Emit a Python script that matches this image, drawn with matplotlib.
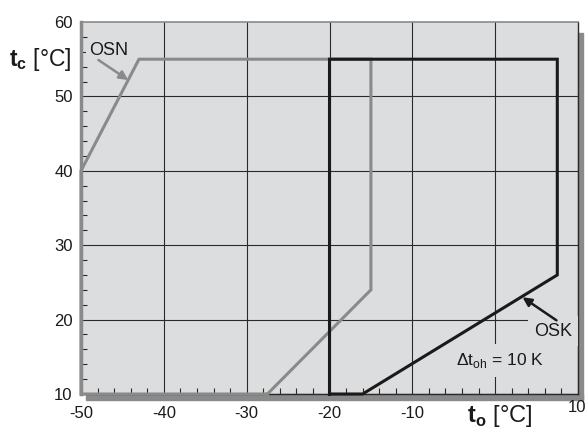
import matplotlib
matplotlib.use("Agg")
import matplotlib.pyplot as plt
from matplotlib.patches import Rectangle
from matplotlib.ticker import MultipleLocator

plt.rcParams["font.family"] = ["Liberation Sans", "DejaVu Sans"]
plt.rcParams["mathtext.fontset"] = "custom"
plt.rcParams["mathtext.rm"] = "Liberation Sans"
plt.rcParams["mathtext.bf"] = "Liberation Sans:bold"

# envelope outlines (t_o, t_c)
osn_to = [-27.5, -50, -50, -43, -15, -15, -27.5]
osn_tc = [10, 10, 40, 55, 55, 24, 10]
osk_to = [-20, -20, 7.5, 7.5, -16, -20]
osk_tc = [10, 55, 55, 26, 10, 10]

x_ticks = [-50, -40, -30, -20, -10, 0, 10]
x_labels = ["-50", "-40", "-30", "-20", "-10", "", ""]
y_ticks = [10, 20, 30, 40, 50, 60]

W, H = 586, 430
fig = plt.figure(figsize=(W / 100, H / 100), dpi=100)
ax = fig.add_axes([81 / W, 36 / H, 497 / W, 372 / H])
panel = "#dcdddf"
ax.set_facecolor(panel)
ax.set_xlim(-50, 10)
ax.set_ylim(10, 60)

# grid at major positions
for xv in x_ticks[1:-1]:
    ax.axvline(xv, color="#2a2a2a", lw=0.8, zorder=1)
for yv in y_ticks[1:-1]:
    ax.axhline(yv, color="#2a2a2a", lw=0.8, zorder=1)

ax.set_xticks(x_ticks)
ax.set_xticklabels(x_labels)
ax.set_yticks(y_ticks)
ax.xaxis.set_minor_locator(MultipleLocator(2))
ax.yaxis.set_minor_locator(MultipleLocator(2))
ax.tick_params(axis="both", which="major", length=0, labelsize=12, colors="#1a1a1a")
ax.tick_params(axis="both", which="minor", direction="in", length=4, width=0.8, color="#2a2a2a")
ax.tick_params(axis="x", which="major", pad=9)
ax.tick_params(axis="y", which="major", pad=6)
# the last x label sits a little higher in the original
ax.annotate("10", xy=(x_ticks[-1], 10), xytext=(-1, -9.5), textcoords="offset points",
            ha="center", va="center", fontsize=12, color="#1a1a1a", annotation_clip=False)

ax.spines["left"].set_color("#8a8a8a")
ax.spines["left"].set_linewidth(2.5)
ax.spines["top"].set_color("#8a8a8a")
ax.spines["top"].set_linewidth(1.2)
ax.spines["right"].set_color("#2a2a2a")
ax.spines["right"].set_linewidth(1.0)
ax.spines["bottom"].set_color("#2a2a2a")
ax.spines["bottom"].set_linewidth(1.0)

# drop shadow below and to the right
tr = ax.transAxes
dx = 5 / 497
dy = 6 / 372
ax.add_patch(Rectangle((dx, -dy), 1, dy, transform=tr, color="#8a8a8a",
                       clip_on=False, zorder=0.5))
ax.add_patch(Rectangle((1, -dy), dx, 1 - 0.013, transform=tr, color="#8a8a8a",
                       clip_on=False, zorder=0.5))

ax.plot(osn_to, osn_tc, color="#8a8a8a", lw=2.2, clip_on=False, zorder=3,
        solid_joinstyle="miter")
ax.plot(osk_to, osk_tc, color="#1a1a1a", lw=2.2, clip_on=False, zorder=4,
        solid_joinstyle="miter")

# labels and their arrows
ax.text(-46.7, 56.2, "OSN", fontsize=13, ha="center", va="center", color="#1a1a1a",
        bbox=dict(boxstyle="square,pad=0.15", fc=panel, ec="none"), zorder=5)
ax.annotate("", xy=(-44.3, 52.2), xytext=(-47.9, 54.9),
            arrowprops=dict(arrowstyle="-|>", color="#8a8a8a", lw=1.8,
                            mutation_scale=13, shrinkA=0, shrinkB=0), zorder=6)
ax.text(7.0, 18.45, "OSK", fontsize=13, ha="center", va="center", color="#1a1a1a",
        bbox=dict(boxstyle="square,pad=0.35", fc=panel, ec="none"), zorder=5)
ax.annotate("", xy=(3.3, 23.0), xytext=(7.4, 19.9),
            arrowprops=dict(arrowstyle="-|>", color="#1a1a1a", lw=1.8,
                            mutation_scale=13, shrinkA=0, shrinkB=0), zorder=6)
ax.text(0.6, 14.5, r"$\Delta$t$_{\rm oh}$ = 10 K", fontsize=12.5, ha="center",
        va="center", color="#1a1a1a",
        bbox=dict(boxstyle="square,pad=0.4", fc=panel, ec="none"), zorder=5)

fig.text(9 / W, 1 - 66 / H, r"$\mathbf{t}_\mathbf{c}$ [°C]", fontsize=16.5,
         ha="left", va="baseline", color="#1a1a1a")
fig.text(467 / W, 1 - 422 / H, r"$\mathbf{t}_\mathbf{o}$ [°C]", fontsize=17,
         ha="left", va="baseline", color="#1a1a1a")

fig.savefig("out.png", dpi=100)
